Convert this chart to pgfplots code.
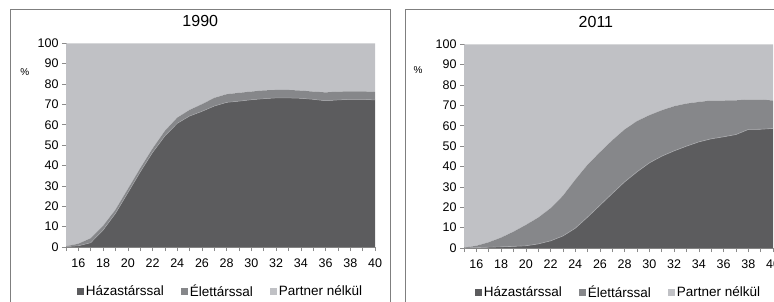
\documentclass[border=0pt]{standalone}
\usepackage{pgfplots}
\usepackage{pgfplotstable}
\pgfplotsset{compat=1.18}
\usepackage{fontspec}
\setmainfont{Liberation Sans}
\definecolor{cdark}{HTML}{5C5C5E}
\definecolor{cmid}{HTML}{86878A}
\definecolor{clight}{HTML}{C0C1C5}
\definecolor{caxis}{HTML}{8A8A8A}
\definecolor{cedge}{HTML}{A9AAAD}
\definecolor{cframe}{HTML}{7F7F7F}

% age, married (Házastárssal), cohabiting (Élettárssal), no partner (Partner nélkül)
\pgfplotstableread{
age mar coh non
15 0.2 0.2 99.6
16 0.6 1.0 98.4
17 2.1 2.2 95.7
18 8.3 2.1 89.6
19 16.5 1.8 81.7
20 26.6 1.8 71.6
21 36.8 1.8 61.4
22 46.4 1.9 51.7
23 54.5 2.5 43.0
24 60.7 2.8 36.5
25 64.3 3.0 32.7
26 66.6 3.5 29.9
27 69.2 4.0 26.8
28 71.0 4.0 25.0
29 71.6 4.1 24.3
30 72.3 4.0 23.7
31 72.8 4.1 23.1
32 73.2 3.9 22.9
33 73.2 3.9 22.9
34 73.0 3.8 23.2
35 72.5 3.8 23.7
36 71.8 4.1 24.1
37 72.2 4.1 23.7
38 72.5 3.9 23.6
39 72.5 3.9 23.6
40 72.2 4.0 23.8
}\dataA

\pgfplotstableread{
age mar coh non
15 0.0 0.2 99.8
16 0.2 0.9 98.9
17 0.4 2.4 97.2
18 0.6 4.5 94.9
19 0.8 7.2 92.0
20 1.1 10.2 88.7
21 2.0 12.9 85.1
22 3.5 16.0 80.5
23 5.9 19.7 74.4
24 9.7 23.8 66.5
25 15.2 25.7 59.1
26 21.0 26.0 53.0
27 26.8 26.1 47.1
28 32.5 25.7 41.8
29 37.4 24.9 37.7
30 41.8 23.4 34.8
31 45.1 22.5 32.4
32 47.7 21.9 30.4
33 50.0 20.9 29.1
34 52.1 19.6 28.3
35 53.6 18.8 27.6
36 54.6 17.8 27.6
37 55.7 16.8 27.5
38 58.2 14.7 27.1
39 58.3 14.6 27.1
40 58.7 13.7 27.6
}\dataB

\pgfplotsset{
  base/.style={
    scale only axis, width=309pt, height=203.7pt,
    xmin=15, xmax=40, ymin=0, ymax=100,
  },
  panel/.style={
    base,
    stack plots=y,
    axis lines*=left,
    axis line style={caxis, line width=0.6pt},
    tick align=outside,
    major tick length=4pt, minor tick length=4pt,
    every tick/.style={caxis, line width=0.6pt},
    xtick={16,18,...,40},
    minor xtick={15,17,...,39},
    ytick={0,10,...,100},
    /pgf/number format/assume math mode=true,
    tick label style={font=\fontsize{12.5}{14}\selectfont, black},
    xticklabel style={yshift=-4pt},
    title style={anchor=base, yshift=11pt, font=\fontsize{16}{18}\selectfont},
    legend columns=3,
    legend style={draw=none, fill=none, anchor=center,
      font=\fontsize{13.5}{15}\selectfont,
      /tikz/every even column/.append style={column sep=15pt}},
    legend image code/.code={\fill[#1] (0pt,-3.5pt) rectangle (7pt,3.5pt);},
  },
}

\begin{document}
\begin{tikzpicture}
% panel frames
\draw[cframe, line width=0.8pt] (10pt,291.7pt) rectangle (390.7pt,-20pt);
\draw[cframe, line width=0.8pt] (405.7pt,291.7pt) rectangle (800pt,-20pt);

% ---- 1990 ----
\begin{axis}[panel, at={(66pt,54pt)}, anchor=south west,
  title={1990}, title style={at={(0.4346,1)}},
  every axis y label/.style={at={(axis description cs:-0.133,0.859)}, anchor=center, font=\fontsize{10}{12}\selectfont},
  ylabel={\%},
  legend style={at={(axis description cs:0.5,-0.216)}},
]
\addplot[fill=cdark, draw=none] table[x=age, y=mar]{\dataA} \closedcycle;
\addplot[fill=cmid, draw=none] table[x=age, y=coh]{\dataA} \closedcycle;
\addplot[fill=clight, draw=none] table[x=age, y=non]{\dataA} \closedcycle;
\legend{Házastárssal, Élettárssal, Partner nélkül}
\end{axis}
\begin{axis}[base, hide axis, at={(66pt,54pt)}, anchor=south west]
\addplot[cedge, line width=0.5pt] table[x=age, y=mar]{\dataA};
\end{axis}

% ---- 2011 ----
\begin{axis}[panel, at={(464pt,53pt)}, anchor=south west,
  title={2011}, title style={at={(0.427,1)}},
  every axis y label/.style={at={(axis description cs:-0.149,0.874)}, anchor=center, font=\fontsize{10}{12}\selectfont},
  ylabel={\%},
  legend style={at={(axis description cs:0.5,-0.216)}},
]
\addplot[fill=cdark, draw=none] table[x=age, y=mar]{\dataB} \closedcycle;
\addplot[fill=cmid, draw=none] table[x=age, y=coh]{\dataB} \closedcycle;
\addplot[fill=clight, draw=none] table[x=age, y=non]{\dataB} \closedcycle;
\legend{Házastárssal, Élettárssal, Partner nélkül}
\end{axis}
\begin{axis}[base, hide axis, at={(464pt,53pt)}, anchor=south west]
\addplot[cedge, line width=0.6pt] table[x=age, y=mar]{\dataB};
\end{axis}

\pgfresetboundingbox
\useasboundingbox (0pt,0pt) rectangle (774pt,301pt);
\end{tikzpicture}
\end{document}
